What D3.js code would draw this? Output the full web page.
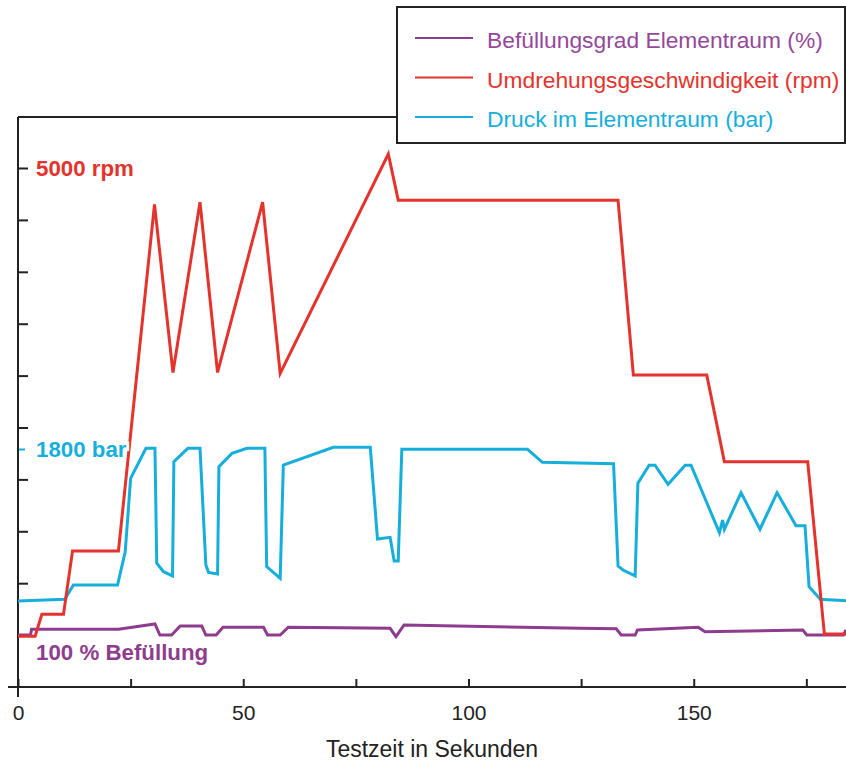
<!DOCTYPE html>
<meta charset="utf-8">
<script src="https://d3js.org/d3.v7.min.js"></script>
<style>
body{margin:0;background:#fff;}
text{font-family:"Liberation Sans",Arial,Helvetica,sans-serif;}
</style>
<div id="chart"></div>
<script>
// Umdrehungsgeschwindigkeit (rpm)
var rpmTime   = [0, 3.8, 5.3, 10.1, 12.1, 22.3, 30.3, 34.4, 40.4, 44.3, 54.3, 58.2, 82.2, 84.4, 133.2, 136.6, 152.9, 156.8, 175.3, 179.0, 183.8];
var rpmValues = [490, 490, 700, 700, 1310, 1310, 4650, 3030, 4670, 3030, 4670, 3020, 5135, 4690, 4690, 3005, 3005, 2170, 2170, 510, 510];

// Druck im Elementraum (bar)
var barTime   = [0, 10.4, 12.3, 22.1, 23.8, 25.0, 28.4, 30.4, 30.8, 32.3, 34.3, 34.6, 37.7, 40.4, 41.7, 42.3, 44.3, 44.6, 47.5, 50.8, 54.8, 55.2, 58.2, 58.9,
                 70.0, 78.2, 79.8, 82.6, 83.5, 84.4, 85.2, 113.1, 116.4, 132.2, 133.2, 134.3, 137.0, 137.6, 140.1, 141.4, 144.3, 148.1, 149.4,
                 155.7, 156.4, 156.8, 160.5, 164.7, 168.5, 172.7, 174.7, 175.6, 178.1, 183.8];
var barValues = [650, 663, 771, 771, 1023, 1578, 1805, 1805, 936, 872, 840, 1704, 1805, 1805, 923, 867, 855, 1666, 1767, 1805, 1805, 910, 822, 1679,
                 1813, 1813, 1119, 1132, 953, 953, 1798, 1798, 1699, 1689, 915, 885, 840, 1541, 1677, 1677, 1533, 1677, 1677,
                 1167, 1263, 1193, 1470, 1193, 1470, 1220, 1220, 759, 663, 653];

// Befüllungsgrad Elementraum (%)
var pctTime   = [0, 2.8, 3.0, 22.3, 30.4, 31.5, 34.1, 36.0, 40.8, 41.7, 44.0, 45.5, 54.5, 55.4, 58.2, 60.0, 82.6, 83.9, 85.7,
                 124.8, 132.8, 133.9, 137.0, 137.5, 151.0, 152.5, 174.2, 175.1, 183.2, 183.8];
var pctValues = [82.5, 82.5, 91.6, 91.6, 100, 82.5, 82.5, 96.8, 96.8, 82.5, 82.5, 94.8, 94.8, 82.5, 82.5, 94.8, 93.2, 79.8, 98.4,
                 93.2, 92.5, 82.5, 82.5, 90.5, 94.8, 87.8, 90.5, 82.5, 82.5, 90.5];

var xTicks = [0, 25, 50, 75, 100, 125, 150, 175];
var xLabels = [0, 50, 100, 150];
var rpmTicks = [1000, 1500, 2000, 2500, 3000, 3500, 4000, 4500, 5000];

var legendLabels = ["Befüllungsgrad Elementraum (%)", "Umdrehungsgeschwindigkeit (rpm)", "Druck im Elementraum (bar)"];
var purple = "#8e3d8e", red = "#e4332c", cyan = "#16aedb";
var legendColors = [purple, red, cyan];
var legendText = ["#95489a", red, cyan];

var width = 846, height = 769;
var svg = d3.select("#chart").append("svg")
  .attr("width", width)
  .attr("height", height);

var x = d3.scaleLinear().domain([0, 183.8]).range([18, 846]);
var yRpm = d3.scaleLinear().domain([0, 5000]).range([687, 168]);
var yBar = d3.scaleLinear().domain([0, 1800]).range([687, 449]);
var yPct = d3.scaleLinear().domain([0, 100]).range([687, 624]);

// Y-Achse (Ticks nach innen, ohne Beschriftung)
var yAx = svg.append("g")
  .attr("transform", "translate(18,0)")
  .call(d3.axisRight(yRpm).tickValues(rpmTicks).tickSize(10).tickFormat(""));
yAx.select(".domain").remove();
yAx.selectAll("line").attr("stroke", "#222").attr("stroke-width", 2);

var barAx = svg.append("g")
  .attr("transform", "translate(18,0)")
  .call(d3.axisRight(yBar).tickValues([1800]).tickSize(7).tickFormat(""));
barAx.select(".domain").remove();
barAx.selectAll("line").attr("stroke", cyan).attr("stroke-width", 2);

// X-Achse
var xAx = svg.append("g")
  .attr("transform", "translate(0,687)")
  .call(d3.axisBottom(x).tickValues(xTicks).tickSize(-8).tickPadding(18)
    .tickFormat(function(d){ return xLabels.indexOf(d) >= 0 ? d : ""; }));
xAx.select(".domain").remove();
xAx.selectAll("line").attr("stroke", "#222").attr("stroke-width", 2);
xAx.selectAll("text")
  .style("font-family", '"Liberation Sans",Arial,sans-serif')
  .style("font-size", "21px")
  .attr("fill", "#222");

// Rahmenlinien
svg.append("line")
  .attr("x1", x(0) - 10).attr("x2", 846)
  .attr("y1", 687).attr("y2", 687)
  .attr("stroke", "#222").attr("stroke-width", 2);
svg.append("line")
  .attr("x1", 18).attr("x2", 18)
  .attr("y1", 117).attr("y2", 697)
  .attr("stroke", "#222").attr("stroke-width", 2);
svg.append("line")
  .attr("x1", 18).attr("x2", 397)
  .attr("y1", 117).attr("y2", 117)
  .attr("stroke", "#222").attr("stroke-width", 2);

svg.append("text")
  .attr("x", 432)
  .attr("y", 757)
  .attr("text-anchor", "middle")
  .style("font-size", "23px")
  .attr("fill", "#222")
  .text("Testzeit in Sekunden");

// Linien
function series(times, values, yScale, color) {
  var pts = times.map(function(t, i){ return [t, values[i]]; });
  svg.append("path")
    .datum(pts)
    .attr("fill", "none")
    .attr("stroke", color)
    .attr("stroke-width", 3)
    .attr("stroke-linejoin", "miter")
    .attr("d", d3.line()
      .x(function(d){ return x(d[0]); })
      .y(function(d){ return yScale(d[1]); }));
}
series(pctTime, pctValues, yPct, purple);
series(barTime, barValues, yBar, cyan);
series(rpmTime, rpmValues, yRpm, red);

// Kennzeichnungen
function marker(label, yPos, color) {
  svg.append("text")
    .attr("x", 36)
    .attr("y", yPos)
    .attr("fill", color)
    .attr("stroke", "#fff")
    .attr("stroke-width", 6)
    .attr("paint-order", "stroke")
    .style("font-size", "22.3px")
    .style("font-weight", "bold")
    .text(label);
}
marker("5000 rpm", yRpm(5000) + 8, red);
marker("1800 bar", yBar(1800) + 8, cyan);
marker("100 % Befüllung", yPct(100) + 36, purple);

// Legende
svg.append("rect")
  .attr("x", 397).attr("y", 7)
  .attr("width", 448).attr("height", 136)
  .attr("fill", "#fff")
  .attr("stroke", "#222").attr("stroke-width", 2);

var leg = svg.selectAll("g.leg")
  .data(legendLabels)
  .enter()
  .append("g")
    .attr("class", "leg")
    .attr("transform", function(d, i){ return "translate(0," + (38 + i * 39.5) + ")"; });
leg.append("line")
  .attr("x1", 415).attr("x2", 473)
  .attr("stroke", function(d, i){ return legendColors[i]; })
  .attr("stroke-width", 2);
leg.append("text")
  .attr("x", 487)
  .attr("y", 10)
  .attr("fill", function(d, i){ return legendText[i]; })
  .style("font-size", "22.8px")
  .text(function(d){ return d; });
</script>
